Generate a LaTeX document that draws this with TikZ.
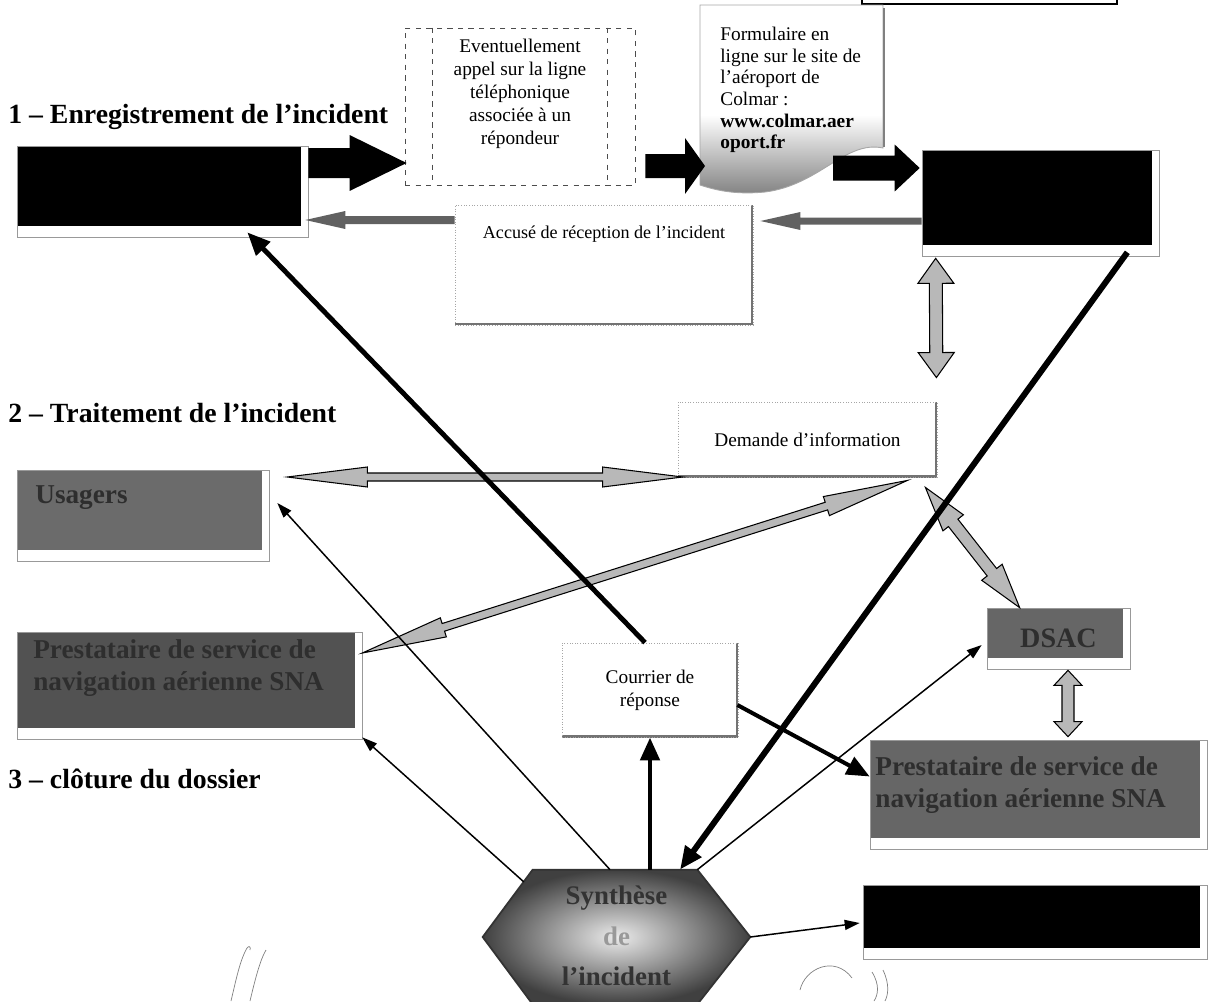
\documentclass[tikz,border=0pt]{standalone}
\usepackage{fontspec}
\setmainfont{Liberation Serif}
\usetikzlibrary{calc,arrows.meta}

% fleche pleine : style, depart, arrivee, demi-corps, demi-tete, longueur tete
\newcommand{\grossefleche}[6]{%
  \coordinate (gfA) at #2;
  \coordinate (gfB) at #3;
  \coordinate (gfC) at ($(gfB)!#6!(gfA)$);
  \path[#1] ($(gfA)!#4!90:(gfB)$) -- ($(gfC)!#4!-90:(gfA)$) -- ($(gfC)!#5!-90:(gfA)$) -- (gfB)
    -- ($(gfC)!#5!90:(gfA)$) -- ($(gfC)!#4!90:(gfA)$) -- ($(gfA)!#4!-90:(gfB)$) -- cycle;
}
% double fleche : memes arguments
\newcommand{\doublefleche}[6]{%
  \coordinate (dfA) at #2;
  \coordinate (dfB) at #3;
  \coordinate (dfC) at ($(dfA)!#6!(dfB)$);
  \coordinate (dfD) at ($(dfB)!#6!(dfA)$);
  \path[#1] (dfA) -- ($(dfC)!#5!-90:(dfB)$) -- ($(dfC)!#4!-90:(dfB)$) -- ($(dfD)!#4!90:(dfA)$)
    -- ($(dfD)!#5!90:(dfA)$) -- (dfB) -- ($(dfD)!#5!-90:(dfA)$) -- ($(dfD)!#4!-90:(dfA)$)
    -- ($(dfC)!#4!90:(dfB)$) -- ($(dfC)!#5!90:(dfB)$) -- cycle;
}

\begin{document}
\begin{tikzpicture}[x=0.02cm,y=-0.02cm]
	\tikzset{
		titre/.style={font=\fontsize{15.8}{18}\selectfont\bfseries, anchor=base west, inner sep=0},
		texte/.style={font=\fontsize{11}{13}\selectfont, align=center, inner sep=0},
		gris/.style={font=\fontsize{15.5}{18.5}\selectfont\bfseries, text=black!82, align=left, anchor=west, inner sep=0},
		cadre/.style={draw=black!40, line width=0.4pt, inner sep=0,
			path picture={\fill[#1] (path picture bounding box.north west) rectangle ([xshift=-0.14cm,yshift=0.22cm]path picture bounding box.south east);}},
		blanche/.style={draw=black!35, densely dotted, line width=0.5pt, fill=white, inner sep=0,
			path picture={\draw[black!55, line width=2.5pt, solid] (path picture bounding box.south west) -- (path picture bounding box.south east) -- (path picture bounding box.north east);}},
		trait/.style={line width=0.85pt, -{Triangle[length=0.3cm, width=0.2cm]}},
		gros trait/.style={line width=2.8pt, -{Triangle[length=0.46cm, width=0.38cm]}},
		noire/.style={fill=black},
		sombre/.style={fill=black!62},
		grise/.style={fill=black!28, draw=black, line width=0.6pt}
	}
	\useasboundingbox (0,0) rectangle (1210,1001);
	\clip (0,0) rectangle (1210,1001);

	% Titres
	\node[titre] (titre1) at (8,123) {1 – Enregistrement de l’incident};
	\node[titre] (titre2) at (8,422) {2 – Traitement de l’incident};
	\node[titre] (titre3) at (8,788) {3 – clôture du dossier};

	% Boites
	\node[draw, line width=1.2pt, minimum width=5.1cm, minimum height=1cm] (haut) at (989.5,-21) {};
	\node[cadre=black, minimum width=5.82cm, minimum height=1.82cm] (boite1) at (162.5,191.5) {};
	\node[cadre=black, minimum width=4.74cm, minimum height=2.12cm] (boite2) at (1040.5,203) {};
	\node[cadre=black, minimum width=6.88cm, minimum height=1.48cm] (boite3) at (1035,922) {};
	\node[draw=black!70, dashed, line width=0.5pt, minimum width=4.6cm, minimum height=3.14cm] (tirets) at (520,106.5) {};
	\draw[black!70, dashed, line width=0.5pt] ($(tirets.north west)+(28,0)$) -- ($(tirets.south west)+(28,0)$);
	\draw[black!70, dashed, line width=0.5pt] ($(tirets.north east)+(-28,0)$) -- ($(tirets.south east)+(-28,0)$);
	\node[texte] (tirets-texte) at (520,94) {Eventuellement\\appel sur la ligne\\téléphonique\\associée à un\\répondeur};

	\begin{scope}
		\clip (700,5) -- (883,5) -- (883,148) .. controls (845,140) and (820,185) .. (765,192)
			.. controls (735,195) and (715,190) .. (700,185) -- cycle;
		\fill[white] (700,5) rectangle (883,200);
		\shade[top color=white, bottom color=black!50] (700,115) rectangle (883,196);
	\end{scope}
	\draw[black!35, line width=0.5pt] (700,5) -- (883,5) -- (883,148) .. controls (845,140) and (820,185) .. (765,192)
		.. controls (735,195) and (715,190) .. (700,185) -- cycle;
	\draw[black!50, line width=1.2pt] (884,8) -- (884,147);
	\node[texte, font=\fontsize{11}{12.3}\selectfont, align=left, anchor=north west] (formulaire) at (720,27)
		{Formulaire en\\ligne sur le site de\\l’aéroport de\\Colmar :\\\textbf{www.colmar.aer}\\\textbf{oport.fr}};
	\coordinate (doc-g) at (705,166);
	\coordinate (doc-d) at (833,168);

	\node[blanche, minimum width=5.96cm, minimum height=2.4cm] (accuse) at (604,265) {};
	\node[texte, font=\fontsize{10.3}{12}\selectfont] (accuse-texte) at (604,234) {Accusé de réception de l’incident};
	\node[blanche, texte, minimum width=5.18cm, minimum height=1.5cm] (demande) at (807.5,439.5) {Demande d’information};
	\node[blanche, texte, minimum width=3.52cm, minimum height=1.88cm] (courrier) at (650,690) {Courrier de\\réponse};

	\node[cadre=black!58, minimum width=5.04cm, minimum height=1.82cm] (usagers) at (143,515.5) {};
	\node[gris] (usagers-texte) at (35,498) {Usagers};
	\node[cadre=black!68, minimum width=6.9cm, minimum height=2.14cm] (presta1) at (189.5,685.5) {};
	\node[gris] (presta1-texte) at (33,668) {Prestataire de service de\\navigation aérienne SNA};
	\node[cadre=black!60, minimum width=2.86cm, minimum height=1.22cm, font=\fontsize{16}{18}\selectfont\bfseries, text=black!82] (dsac) at (1058.5,638.5) {DSAC};
	\node[cadre=black!60, minimum width=6.74cm, minimum height=2.18cm] (presta2) at (1038.5,794.5) {};
	\node[gris] (presta2-texte) at (875,785) {Prestataire de service de\\navigation aérienne SNA};

	% Synthese
	\node[minimum width=5.34cm, minimum height=2.68cm] (synthese) at (616.5,937) {};
	\coordinate (hexNO) at ($(synthese.north west)+(50,0)$);
	\coordinate (hexNE) at ($(synthese.north east)+(-53,0)$);
	\coordinate (hexSE) at ($(synthese.south east)+(-53,0)$);
	\coordinate (hexSO) at ($(synthese.south west)+(50,0)$);
	\shadedraw[inner color=black!8, outer color=black!75, draw=black!80, line width=1pt]
		(synthese.west) -- (hexNO) -- (hexNE) -- (synthese.east) -- (hexSE) -- (hexSO) -- cycle;
	\node[font=\fontsize{15.3}{23.2}\selectfont\bfseries, text=black!80, align=center] (synthese-texte) at (616.5,936)
		{Synthèse\\{\color{black!40}de}\\l’incident};

	% Grosses fleches
	\grossefleche{noire}{($(boite1.east)+(0,-28.5)$)}{($(tirets.west)+(2,56.5)$)}{0.3cm}{0.56cm}{1.14cm}
	\grossefleche{noire}{($(tirets.east)+(10,59.5)$)}{(doc-g)}{0.24cm}{0.56cm}{0.4cm}
	\grossefleche{noire}{(doc-d)}{($(boite2.west)+(-2,-35)$)}{0.25cm}{0.47cm}{0.5cm}
	\grossefleche{sombre}{($(boite2.west)+(0,18)$)}{($(accuse.east)+(7,-44)$)}{0.07cm}{0.18cm}{0.8cm}
	\grossefleche{sombre}{($(accuse.west)+(0,-45)$)}{($(boite1.east)+(-3,28.5)$)}{0.08cm}{0.18cm}{0.8cm}

	% Doubles fleches
	\doublefleche{grise}{($(boite2.south west)+(14,2)$)}{($(demande.north east)+(-1,-24)$)}{0.13cm}{0.36cm}{0.5cm}
	\doublefleche{grise}{($(usagers.east)+(18,-38.5)$)}{($(demande.west)+(5,37.5)$)}{0.08cm}{0.2cm}{1.6cm}
	\doublefleche{grise}{($(presta1.east)+(0,-32.5)$)}{($(demande.south east)+(-30,3)$)}{0.08cm}{0.2cm}{1.7cm}
	\doublefleche{grise}{($(demande.south east)+(-12,10)$)}{($(dsac.north west)+(33,0)$)}{0.12cm}{0.26cm}{0.9cm}
	\doublefleche{grise}{($(dsac.south)+(9.5,1)$)}{($(presta2.north)+(29.5,-3)$)}{0.12cm}{0.28cm}{0.3cm}

	% Traits epais
	\draw[gros trait] ($(courrier.north)+(-5,0)$) -- ($(boite1.south east)+(-61,-5)$);
	\draw[gros trait, line width=3.4pt] ($(boite2.south east)+(-32,-4)$) -- ($(synthese.north)+(63.5,0)$);
	\draw[gros trait] (courrier.south |- synthese.north) -- (courrier.south);
	\draw[gros trait, line width=2.3pt] ($(courrier.east)+(-1,15)$) -- ($(presta2.west)+(0,-18)$);

	% Traits fins
	\draw[trait] ($(synthese.north)+(-6.5,0)$) -- ($(usagers.east)+(8,-12.5)$);
	\draw[trait] ($(hexNO)!0.18!(synthese.west)$) -- ($(presta1.south east)+(0,-2)$);
	\draw[trait] (hexNE) -- ($(dsac.west)+(-5,6.5)$);
	\draw[trait] (synthese.east) -- ($(boite3.west)+(-3,1)$);

	% Griffonnages
	\draw[black!50, line width=0.4pt] (231,1001) .. controls (236,980) and (240,960) .. (247,948) .. controls (249,945) and (251,947) .. (250,950);
	\draw[black!50, line width=0.4pt] (250,1001) .. controls (255,980) and (260,960) .. (266,950);
	\draw[black!50, line width=0.4pt] (800,990) .. controls (805,968) and (835,955) .. (852,978);
	\draw[black!50, line width=0.4pt] (872,972) .. controls (880,985) and (878,995) .. (874,1001);
	\draw[black!50, line width=0.4pt] (883,970) .. controls (890,985) and (888,995) .. (885,1001);
\end{tikzpicture}
\end{document}
